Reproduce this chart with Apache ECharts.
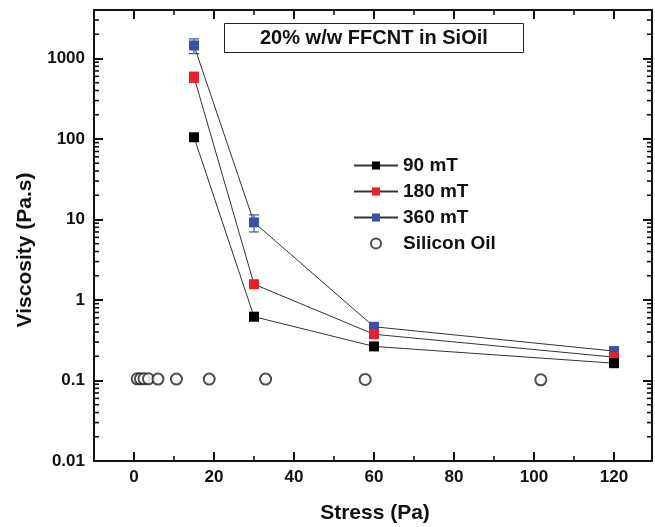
<!DOCTYPE html>
<html>
<head>
<meta charset="utf-8">
<script src="https://cdn.jsdelivr.net/npm/echarts@6/dist/echarts.min.js"></script>
<style>html,body{margin:0;padding:0;background:#fff}#main{width:655px;height:527px}</style>
</head>
<body>
<div id="main"></div>
<script>
// data
var stress = [15, 30, 60, 120];
var visc90 = [105, 0.62, 0.265, 0.164];
var visc180 = [590, 1.57, 0.375, 0.195];
var visc360 = [1450, 9.2, 0.465, 0.232];
var err90 = [0, 0, 0.02, 0];
var err180 = [85, 0, 0, 0];
var err360 = [300, 2.2, 0, 0];
var oilStress = [0.8, 1.6, 2.5, 3.6, 6.0, 10.6, 18.8, 32.9, 57.8, 101.7];
var oilVisc = [0.105, 0.105, 0.105, 0.105, 0.104, 0.104, 0.104, 0.104, 0.103, 0.102];
var yTickLabels = ['0.01', '0.1', '1', '10', '100', '1000'];
var xMinorTicks = [10, 30, 50, 70, 90, 110];
var yDecades = [0.01, 0.1, 1, 10, 100, 1000];
var yMinorMult = [2, 3, 4, 5, 6, 7, 8, 9];

var xMin = -10, xMax = 129.5, yMin = 0.01, yMax = 4000;
var font = '"Liberation Sans", Arial, sans-serif';
var ink = '#111';

var myChart = echarts.init(document.getElementById('main'));

function pairs(xs, ys) {
    return xs.map(function (x, i) { return [x, ys[i]]; });
}
function errData(vals, errs) {
    var out = [];
    stress.forEach(function (s, i) {
        if (errs[i] > 0) out.push([s, vals[i] - errs[i], vals[i] + errs[i]]);
    });
    return out;
}
function errRender(color) {
    return function (params, api) {
        var x = api.value(0);
        var p0 = api.coord([x, api.value(1)]);
        var p1 = api.coord([x, api.value(2)]);
        var w = 5;
        var st = {stroke: color, lineWidth: 1.2};
        return {
            type: 'group',
            children: [
                {type: 'line', shape: {x1: p0[0], y1: p0[1], x2: p1[0], y2: p1[1]}, style: st},
                {type: 'line', shape: {x1: p0[0] - w, y1: p0[1], x2: p0[0] + w, y2: p0[1]}, style: st},
                {type: 'line', shape: {x1: p1[0] - w, y1: p1[1], x2: p1[0] + w, y2: p1[1]}, style: st}
            ]
        };
    };
}

// minor tick positions
var yMinorData = [];
yDecades.forEach(function (d) {
    yMinorMult.forEach(function (m) {
        if (d * m < yMax) yMinorData.push([xMin, d * m]);
    });
});
var xMinorData = xMinorTicks.map(function (x) { return [x, yMin]; });

function xAxisCfg(pos, labels) {
    return {
        type: 'value', min: xMin, max: xMax, minInterval: 20, maxInterval: 20,
        position: pos,
        axisLine: {onZero: false, lineStyle: {color: ink, width: 2}},
        axisTick: {inside: true, length: 9, lineStyle: {color: ink, width: 2}},
        splitLine: {show: false},
        axisLabel: {
            show: labels, margin: 8, color: ink, fontSize: 17, fontWeight: 'bold', fontFamily: font,
            formatter: function (v) { return (v < 0 || v > 120) ? '' : String(v); }
        }
    };
}
function yAxisCfg(pos, labels) {
    return {
        type: 'log', logBase: 10, min: yMin, max: yMax,
        position: pos,
        axisLine: {onZero: false, lineStyle: {color: ink, width: 2}},
        axisTick: {inside: true, length: 9, lineStyle: {color: ink, width: 2}},
        splitLine: {show: false},
        axisLabel: {
            show: labels, margin: 9, color: ink, fontSize: 17, fontWeight: 'bold', fontFamily: font,
            formatter: function (v) {
                var lg = Math.log10(v), e = Math.round(lg);
                if (Math.abs(lg - e) > 1e-6) return '';
                return yTickLabels[e + 2] || '';
            }
        }
    };
}

var option = {
    animation: false,
    backgroundColor: '#fff',
    title: {
        text: '20% w/w FFCNT in SiOil',
        left: 224, top: 23,
        padding: [4, 36],
        borderColor: '#222', borderWidth: 1,
        textStyle: {fontSize: 20, fontWeight: 'bold', color: ink, fontFamily: font, lineHeight: 22}
    },
    legend: {
        orient: 'vertical',
        left: 348, top: 151,
        itemWidth: 44, itemHeight: 10, itemGap: 7,
        data: ['90 mT', '180 mT', '360 mT', 'Silicon Oil'],
        textStyle: {fontSize: 19, fontWeight: 'bold', color: ink, fontFamily: font}
    },
    grid: {left: 94, right: 2, top: 10, bottom: 66},
    xAxis: [xAxisCfg('bottom', true), xAxisCfg('top', false)],
    yAxis: [yAxisCfg('left', true), yAxisCfg('right', false)],
    graphic: [
        {
            type: 'text', x: 25, y: 250, rotation: Math.PI / 2,
            style: {text: 'Viscosity (Pa.s)', align: 'center', verticalAlign: 'middle',
                font: 'bold 21px ' + font, fill: ink}
        },
        {
            type: 'text', x: 375, y: 513,
            style: {text: 'Stress (Pa)', align: 'center', verticalAlign: 'middle',
                font: 'bold 21px ' + font, fill: ink}
        }
    ],
    series: [
        {
            name: 'minorY', type: 'custom', silent: true, z: 1,
            data: yMinorData,
            renderItem: function (params, api) {
                var v = api.value(1);
                var l = api.coord([xMin, v]), r = api.coord([xMax, v]);
                var st = {stroke: ink, lineWidth: 1.6};
                return {type: 'group', children: [
                    {type: 'line', shape: {x1: l[0], y1: l[1], x2: l[0] + 5, y2: l[1]}, style: st},
                    {type: 'line', shape: {x1: r[0], y1: r[1], x2: r[0] - 5, y2: r[1]}, style: st}
                ]};
            }
        },
        {
            name: 'minorX', type: 'custom', silent: true, z: 1,
            data: xMinorData,
            renderItem: function (params, api) {
                var x = api.value(0);
                var b = api.coord([x, yMin]), t = api.coord([x, yMax]);
                var st = {stroke: ink, lineWidth: 1.6};
                return {type: 'group', children: [
                    {type: 'line', shape: {x1: b[0], y1: b[1], x2: b[0], y2: b[1] - 5}, style: st},
                    {type: 'line', shape: {x1: t[0], y1: t[1], x2: t[0], y2: t[1] + 5}, style: st}
                ]};
            }
        },
        {name: 'err360', type: 'custom', silent: true, z: 1, data: errData(visc360, err360), renderItem: errRender('#3a50a6')},
        {name: 'err180', type: 'custom', silent: true, z: 1, data: errData(visc180, err180), renderItem: errRender('#e8202a')},
        {name: 'err90', type: 'custom', silent: true, z: 1, data: errData(visc90, err90), renderItem: errRender('#000')},
        {
            name: 'Silicon Oil', type: 'scatter', z: 2,
            symbol: 'emptyCircle', symbolSize: 11,
            itemStyle: {color: '#222', borderWidth: 1},
            data: pairs(oilStress, oilVisc)
        },
        {
            name: '360 mT', type: 'line', z: 3,
            symbol: 'rect', symbolSize: 10, showAllSymbol: true,
            lineStyle: {color: '#333', width: 1},
            itemStyle: {color: '#3a50a6'},
            data: pairs(stress, visc360)
        },
        {
            name: '180 mT', type: 'line', z: 3,
            symbol: 'rect', symbolSize: 10,
            lineStyle: {color: '#333', width: 1},
            itemStyle: {color: '#e8202a'},
            data: pairs(stress, visc180)
        },
        {
            name: '90 mT', type: 'line', z: 3,
            symbol: 'rect', symbolSize: 10,
            lineStyle: {color: '#333', width: 1},
            itemStyle: {color: '#000'},
            data: pairs(stress, visc90)
        }
    ]
};

myChart.setOption(option);
</script>
</body>
</html>
